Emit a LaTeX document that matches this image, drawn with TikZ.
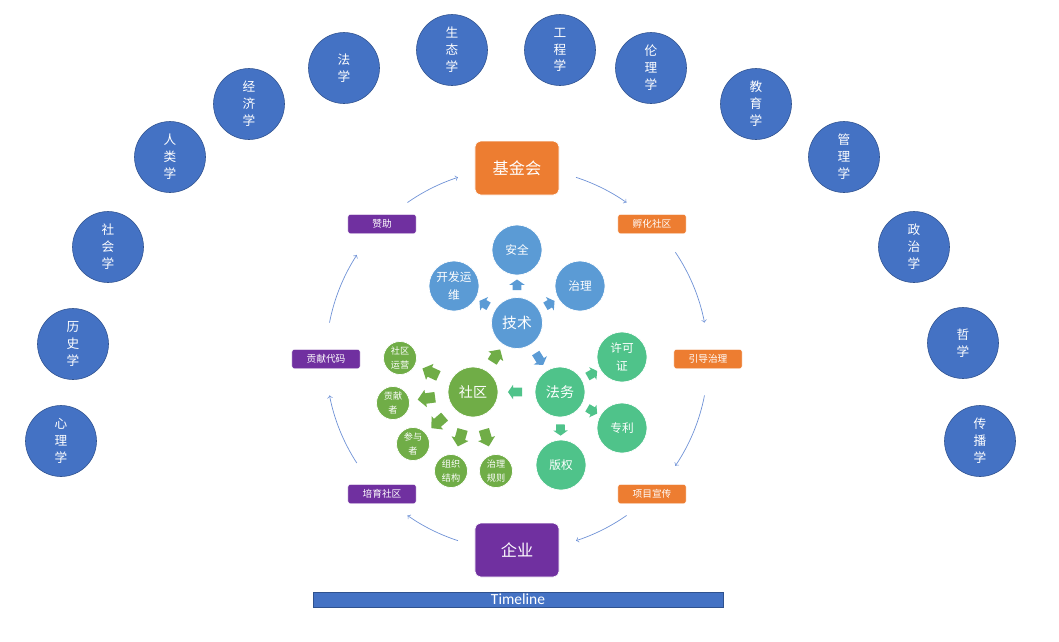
\documentclass[tikz,border=0pt]{standalone}
\usepackage{fontspec}
\setmainfont{Carlito}
\newfontfamily\cjk{Noto Sans CJK SC}
\usetikzlibrary{shapes.arrows}
\definecolor{discblue}{HTML}{4472C4}
\definecolor{discline}{HTML}{2F528F}
\definecolor{techblue}{HTML}{5B9BD5}
\definecolor{lawgreen}{HTML}{4FC38A}
\definecolor{commgreen}{HTML}{70AD47}
\definecolor{fundorange}{HTML}{ED7D31}
\definecolor{corppurple}{HTML}{7030A0}
\definecolor{flowblue}{HTML}{6F92D6}
\tikzset{
  discipline/.style = {circle, fill = discblue, draw = discline, line width = 0.4pt,
    minimum size = 50.5pt, inner sep = 0pt, text = white, align = center,
    font = \cjk\fontsize{9}{12}\selectfont},
  bigbox/.style = {rectangle, rounded corners = 4pt, draw = white, line width = 0.5pt,
    minimum width = 59.8pt, minimum height = 38.4pt, text = white,
    font = \cjk\fontsize{11.5}{13}\selectfont},
  tag/.style = {rectangle, rounded corners = 1.5pt, draw = white, line width = 0.3pt,
    minimum width = 48.4pt, minimum height = 13.5pt, inner sep = 0pt, text = white,
    font = \cjk\fontsize{6.9}{8}\selectfont},
  bubble/.style = {circle, draw = white, line width = 0.5pt, inner sep = 0pt,
    text = white, align = center},
  techhub/.style = {bubble, fill = techblue, minimum size = 36.3pt, font = \cjk\fontsize{10.5}{12}\selectfont},
  techleaf/.style = {bubble, fill = techblue, minimum size = 35.6pt, font = \cjk\fontsize{8.3}{13}\selectfont},
  lawhub/.style = {bubble, fill = lawgreen, minimum size = 35.6pt, font = \cjk\fontsize{10}{12}\selectfont},
  lawleaf/.style = {bubble, fill = lawgreen, minimum size = 35.6pt, font = \cjk\fontsize{8.3}{13}\selectfont},
  commhub/.style = {bubble, fill = commgreen, minimum size = 35.6pt, font = \cjk\fontsize{10}{12}\selectfont},
  commleaf/.style = {bubble, fill = commgreen, minimum size = 23.5pt, font = \cjk\fontsize{6.5}{10}\selectfont},
  blockarrow/.style = {single arrow, inner xsep = 0pt, sloped, allow upside down},
  techarrow/.style = {blockarrow, fill = techblue, minimum height = 7.5pt, inner ysep = 2.85pt,
    single arrow head extend = 2.5pt, single arrow tip angle = 110},
  lawarrow/.style = {blockarrow, fill = lawgreen, minimum height = 8pt, inner ysep = 2.85pt,
    single arrow head extend = 2.1pt, single arrow tip angle = 110},
  commarrow/.style = {blockarrow, fill = commgreen, minimum height = 12.5pt, inner ysep = 3.55pt,
    single arrow head extend = 2.5pt, single arrow tip angle = 95},
  flow/.style = {->, draw = flowblue, line width = 0.5pt},
  timeline/.style = {rectangle, fill = discblue, draw = discline, line width = 0.6pt,
    minimum width = 291.6pt, minimum height = 10.7pt, inner sep = 0pt, text = white,
    font = \fontsize{11}{11}\selectfont}
}
\begin{document}
\begin{tikzpicture}[x = 0.025cm, y = 0.025cm]
    \useasboundingbox (0,0) rectangle (1059,-641);
    \coordinate (hub) at (517,-359);

    \node[discipline] (psy) at (61,-441) {心\\理\\学};
    \node[discipline] (hist) at (73,-344) {历\\史\\学};
    \node[discipline] (soc) at (108,-247) {社\\会\\学};
    \node[discipline] (anth) at (170,-157) {人\\类\\学};
    \node[discipline] (econ) at (249,-104) {经\\济\\学};
    \node[discipline] (law) at (344,-68) {法\\学};
    \node[discipline] (eco) at (452,-50) {生\\态\\学};
    \node[discipline] (eng) at (560,-50) {工\\程\\学};
    \node[discipline] (ethics) at (651,-68) {伦\\理\\学};
    \node[discipline] (edu) at (756,-104) {教\\育\\学};
    \node[discipline] (mgmt) at (844,-157) {管\\理\\学};
    \node[discipline] (pol) at (914,-247) {政\\治\\学};
    \node[discipline] (phil) at (963,-343) {哲\\学};
    \node[discipline] (media) at (980,-441) {传\\播\\学};

    \node[bigbox, fill = fundorange] (fund) at (517,-168) {基金会};
    \node[bigbox, fill = corppurple] (corp) at (517,-550) {企业};
    \node[tag, fill = corppurple] (sponsor) at (382,-224) {赞助};
    \node[tag, fill = fundorange] (incubate) at (652,-224) {孵化社区};
    \node[tag, fill = fundorange] (guide) at (708,-359) {引导治理};
    \node[tag, fill = fundorange] (promote) at (652,-494) {项目宣传};
    \node[tag, fill = corppurple] (nurture) at (382,-494) {培育社区};
    \node[tag, fill = corppurple] (code) at (326,-359) {贡献代码};

    \begin{scope}[radius = 191]
        \draw[flow] ([shift = {(125:191)}]hub) arc[start angle = 125, end angle = 108];
        \draw[flow] ([shift = {(72:191)}]hub) arc[start angle = 72, end angle = 55];
        \draw[flow] ([shift = {(34:191)}]hub) arc[start angle = 34, end angle = 11];
        \draw[flow] ([shift = {(-11:191)}]hub) arc[start angle = -11, end angle = -34];
        \draw[flow] ([shift = {(-55:191)}]hub) arc[start angle = -55, end angle = -72];
        \draw[flow] ([shift = {(-108:191)}]hub) arc[start angle = -108, end angle = -125];
        \draw[flow] ([shift = {(-147:191)}]hub) arc[start angle = -147, end angle = -169];
        \draw[flow] ([shift = {(169:191)}]hub) arc[start angle = 169, end angle = 147];
    \end{scope}

    \node[techhub] (tech) at (517,-323) {技术};
    \node[techleaf] (safety) at (517,-250) {安全};
    \node[techleaf] (devops) at (454,-286) {开发运\\维};
    \node[techleaf] (govern) at (580,-286) {治理};
    \node[lawhub] (legal) at (560,-392) {法务};
    \node[lawleaf] (license) at (622,-357) {许可\\证};
    \node[lawleaf] (patent) at (622,-428) {专利};
    \node[lawleaf] (copyright) at (561,-465) {版权};
    \node[commhub] (community) at (473,-392) {社区};
    \node[commleaf] (ops) at (400,-358) {社区\\运营};
    \node[commleaf] (contrib) at (393,-403) {贡献\\者};
    \node[commleaf] (partic) at (413,-444) {参与\\者};
    \node[commleaf] (org) at (451,-471) {组织\\结构};
    \node[commleaf] (rules) at (496,-471) {治理\\规则};

    \path (tech) -- node[techarrow] {} (safety);
    \path (tech) -- node[techarrow] {} (devops);
    \path (tech) -- node[techarrow] {} (govern);
    \path (tech) -- node[techarrow, minimum height = 10pt] {} (legal);
    \path (legal) -- node[lawarrow, minimum height = 10pt] {} (community);
    \path (legal) -- node[lawarrow] {} (license);
    \path (legal) -- node[lawarrow] {} (patent);
    \path (legal) -- node[lawarrow] {} (copyright);
    \path (community) -- node[commarrow, minimum height = 10.5pt] {} (tech);
    \path (community) -- node[commarrow] {} (ops);
    \path (community) -- node[commarrow] {} (contrib);
    \path (community) -- node[commarrow] {} (partic);
    \path (community) -- node[commarrow] {} (org);
    \path (community) -- node[commarrow] {} (rules);

    \node[timeline] (time) at (518,-599.5) {Timeline};
\end{tikzpicture}
\end{document}
